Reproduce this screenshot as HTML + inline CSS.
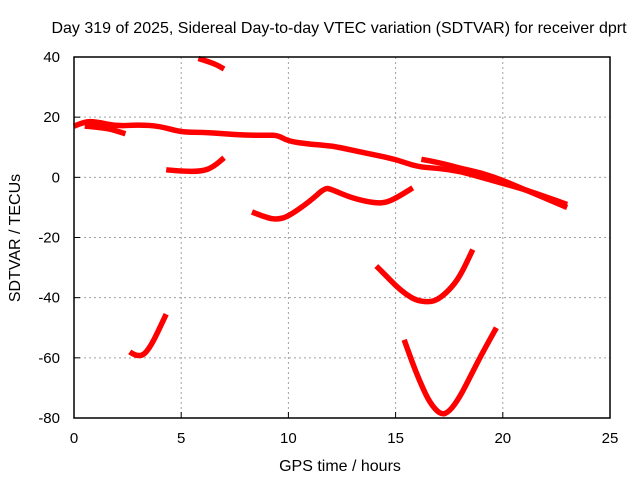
<!DOCTYPE html>
<html><head><meta charset="utf-8"><style>
body{margin:0;background:#fff;}
svg{display:block;font-family:"Liberation Sans",sans-serif;}
</style></head><body>
<svg id="chart" width="640" height="480" xmlns="http://www.w3.org/2000/svg">
<text x="339" y="33" font-size="16" text-anchor="middle">Day 319 of 2025, Sidereal Day-to-day VTEC variation (SDTVAR) for receiver dprt</text>
<text x="340" y="471" font-size="16" text-anchor="middle">GPS time / hours</text>
<text transform="translate(20,238) rotate(-90)" font-size="16" text-anchor="middle">SDTVAR / TECUs</text>
<g id="grid"></g><g id="series"></g><g id="axes"></g>
</svg>
<script>
const xTicks=[0,5,10,15,20,25];
const yTicks=[40,20,0,-20,-40,-60,-80];
const segMain=[[0,17],[0.5,18.5],[1,18.5],[2,17],[3,17.5],[4,17],[5,15],[6,15],[7,14.5],[8,14],[9,14],[9.5,14],[10,12],[11,11],[12,10.5],[13,9],[14,7.5],[15,6],[16,3.5],[17,3],[18,2],[19,0],[20,-2],[21,-4],[22,-6.5],[23,-9]];
const segMain2=[[16.2,6],[17,5],[18,3],[19,1.5],[20,-1],[21,-4],[22,-7],[23,-10]];
const segStart=[[0.5,17],[1.5,16.5],[2.4,14.5]];
const segTop=[[5.8,39.5],[6.5,38],[7,36]];
const segLow1=[[4.3,2.5],[5,2],[6,2],[6.5,3.5],[7,6.5]];
const segMid=[[8.3,-11.5],[9,-13.5],[9.5,-14],[10,-13],[11,-8],[11.7,-3.5],[12,-4],[13,-7],[14,-8.5],[14.5,-8.5],[15,-7],[15.8,-3.5]];
const segBowl1=[[14.1,-29.5],[14.6,-33],[15,-36],[15.5,-39],[16,-41],[16.6,-41.5],[17,-40.5],[17.5,-37.5],[18,-33],[18.6,-24]];
const segSmall=[[2.6,-58],[3,-60],[3.5,-57.5],[4.3,-45.5]];
const segBowl2=[[15.4,-54],[15.8,-62],[16.2,-69],[16.6,-75],[17.1,-79],[17.5,-78],[18,-73],[18.5,-66],[19,-59],[19.7,-50]];
const segments=[segMain,segMain2,segStart,segTop,segLow1,segMid,segBowl1,segSmall,segBowl2];
const X0=74,X1=610,Y0=418,Y1=57;
const xs=v=>X0+(v-0)/25*(X1-X0);
const ys=v=>Y0-(v+80)/120*(Y0-Y1);
const NS="http://www.w3.org/2000/svg";
function mk(t,p,a){const e=document.createElementNS(NS,t);for(const k in a)e.setAttribute(k,a[k]);p.appendChild(e);return e;}
const grid=document.getElementById('grid'),axes=document.getElementById('axes'),ser=document.getElementById('series');
xTicks.forEach(t=>{const x=xs(t);
 if(t>0&&t<25){const l=mk('line',grid,{x1:x,x2:x,y1:Y1,y2:Y0,stroke:'#a0a0a0','stroke-dasharray':'2,3'});
 }
 const tl=mk('line',axes,{x1:x,x2:x,y1:Y0,y2:Y0-6,stroke:'#000'});
 
 const tx=mk('text',axes,{x:x,y:Y0+25,'font-size':15,'text-anchor':'middle'});tx.textContent=t;
 });
yTicks.forEach(t=>{const y=ys(t);
 if(t>-80&&t<40){const l=mk('line',grid,{x1:X0,x2:X1,y1:y,y2:y,stroke:'#a0a0a0','stroke-dasharray':'2,3'});
 }
 const tl=mk('line',axes,{x1:X0,x2:X0+6,y1:y,y2:y,stroke:'#000'});
 
 const tx=mk('text',axes,{x:X0-14,y:y+5,'font-size':15,'text-anchor':'end'});tx.textContent=t;
 });
const fr=mk('rect',axes,{x:X0,y:Y1,width:X1-X0,height:Y0-Y1,fill:'none',stroke:'#000','stroke-width':1.5});

function smooth(s){const p=s.map(d=>[xs(d[0]),ys(d[1])]);
 let d='M'+p[0][0]+','+p[0][1];
 for(let i=1;i<p.length-1;i++){const mx=(p[i][0]+p[i+1][0])/2,my=(p[i][1]+p[i+1][1])/2;d+=' Q'+p[i][0]+','+p[i][1]+' '+mx+','+my;}
 d+=' L'+p[p.length-1][0]+','+p[p.length-1][1];return d;}
segments.forEach(s=>{const p=mk('path',ser,{d:smooth(s),fill:'none',stroke:'#ff0000','stroke-width':5.5,'stroke-linejoin':'round','stroke-linecap':'butt'});
 });
</script>
</body></html>
